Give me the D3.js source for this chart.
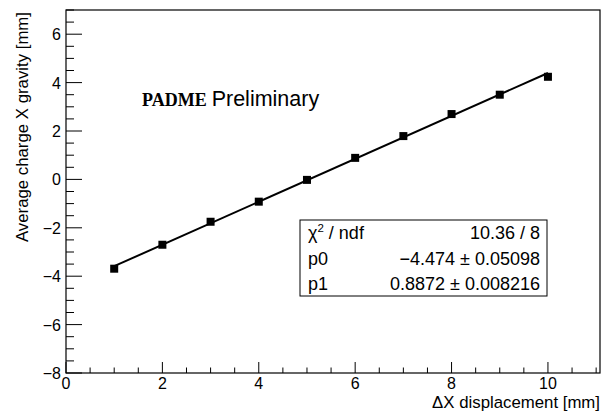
<!DOCTYPE html>
<html lang="en">
<head>
  <meta charset="UTF-8">
  <title>PADME charge gravity vs displacement</title>
  <style>
    body { margin: 0; background: #fff; }
    svg { display: block; font-family: "Liberation Sans", Arial, sans-serif; }
  </style>
  <script src="https://d3js.org/d3.v7.min.js"></script>
</head>
<body>
  <svg></svg>
  <script>
    // measured points
    const displacement = [1, 2, 3, 4, 5, 6, 7, 8, 9, 10];
    const gravityX = [-3.69, -2.70, -1.75, -0.92, -0.02, 0.89, 1.79, 2.70, 3.50, 4.24];
    // linear fit result
    const fitP0 = -4.474, fitP1 = 0.8872;
    const statRows = [
      ["χ2 / ndf", "10.36 / 8"],
      ["p0", "\u22124.474 \u00b1 0.05098"],
      ["p1", "0.8872 \u00b1 0.008216"]
    ];
    const xTicks = [0, 2, 4, 6, 8, 10];
    const yTicks = [-8, -6, -4, -2, 0, 2, 4, 6];

    const width = 609, height = 412;
    const frame = {left: 66, right: 600, top: 10, bottom: 373};

    const svg = d3.select("svg").attr("width", width).attr("height", height);

    const x = d3.scaleLinear().domain([0, 11.08]).range([frame.left, frame.right]);
    const y = d3.scaleLinear().domain([-8, 7]).range([frame.bottom, frame.top]);

    const fmt = d => d < 0 ? "\u2212" + Math.abs(d) : String(d);

    // minor ticks
    const xMinor = d3.range(0, 11.01, 0.5);
    const yMinor = d3.range(-8, 7.01, 0.5);

    svg.append("g").selectAll("line").data(xMinor).join("line")
      .attr("x1", d => x(d)).attr("x2", d => x(d))
      .attr("y1", frame.bottom)
      .attr("y2", d => frame.bottom - (d % 2 === 0 ? 11 : 5.5))
      .attr("stroke", "#000");

    svg.append("g").selectAll("line").data(yMinor).join("line")
      .attr("y1", d => y(d)).attr("y2", d => y(d))
      .attr("x1", frame.left)
      .attr("x2", d => frame.left + (d % 2 === 0 ? 16 : 8))
      .attr("stroke", "#000");

    svg.append("rect")
      .attr("x", frame.left).attr("y", frame.top)
      .attr("width", frame.right - frame.left).attr("height", frame.bottom - frame.top)
      .attr("fill", "none").attr("stroke", "#000").attr("stroke-width", 1.2);

    svg.append("g").selectAll("text").data(xTicks).join("text")
      .attr("x", d => x(d)).attr("y", frame.bottom + 16)
      .attr("text-anchor", "middle").attr("font-size", 16)
      .text(fmt);

    svg.append("g").selectAll("text").data(yTicks).join("text")
      .attr("x", frame.left - 5).attr("y", d => y(d) + 6)
      .attr("text-anchor", "end").attr("font-size", 16)
      .text(fmt);

    svg.append("text")
      .attr("x", frame.right).attr("y", 408)
      .attr("text-anchor", "end").attr("font-size", 16.8)
      .text("\u0394X displacement [mm]");

    svg.append("text")
      .attr("transform", `translate(28,${frame.top + 2}) rotate(-90)`)
      .attr("text-anchor", "end").attr("font-size", 16.8)
      .text("Average charge X gravity [mm]");

    // fit line
    svg.append("line")
      .attr("x1", x(displacement[0])).attr("y1", y(fitP0 + fitP1 * displacement[0]))
      .attr("x2", x(displacement[displacement.length - 1]))
      .attr("y2", y(fitP0 + fitP1 * displacement[displacement.length - 1]))
      .attr("stroke", "#000").attr("stroke-width", 2);

    svg.append("g").selectAll("rect").data(displacement).join("rect")
      .attr("x", (d) => x(d) - 4).attr("y", (d, i) => y(gravityX[i]) - 4)
      .attr("width", 8).attr("height", 8).attr("fill", "#000");

    // label
    const lab = svg.append("text").attr("x", 142).attr("y", 106);
    lab.append("tspan").attr("font-family", "'Liberation Serif', 'Times New Roman', serif")
      .attr("font-weight", "bold").attr("font-size", 18).text("PADME");
    lab.append("tspan").attr("dx", 5).attr("font-size", 21.5).text("Preliminary");

    // stats box
    const box = {x: 300, y: 220, w: 247, h: 76};
    svg.append("rect").attr("x", box.x).attr("y", box.y).attr("width", box.w).attr("height", box.h)
      .attr("fill", "#fff").attr("stroke", "#000").attr("stroke-width", 1);

    const rowH = box.h / statRows.length;
    statRows.forEach((r, i) => {
      const ty = box.y + rowH * i + rowH / 2 + 6.5;
      const t = svg.append("text").attr("x", box.x + 8).attr("y", ty).attr("font-size", 18);
      if (r[0].startsWith("χ2")) {
        t.append("tspan").text("\u03c7");
        t.append("tspan").attr("font-size", 11.5).attr("dy", -7).text("2");
        t.append("tspan").attr("dy", 7).text(" / ndf");
      } else {
        t.text(r[0]);
      }
      svg.append("text").attr("x", box.x + box.w - 7).attr("y", ty)
        .attr("text-anchor", "end").attr("font-size", 18).text(r[1]);
    });
  </script>
</body>
</html>
